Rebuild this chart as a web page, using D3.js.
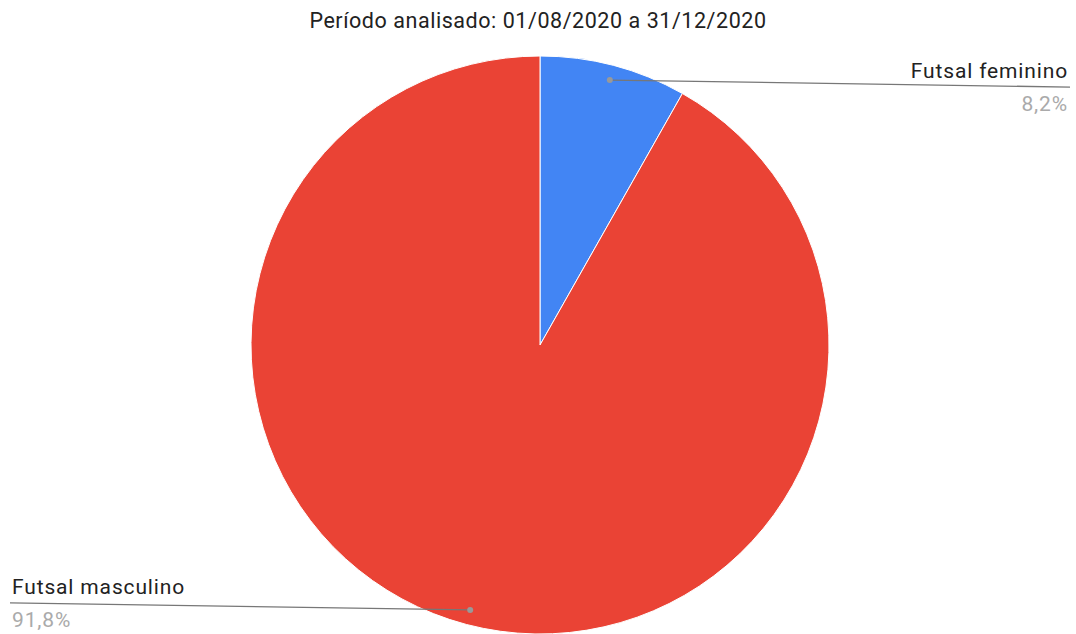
<!DOCTYPE html>
<html>
<head>
<meta charset="utf-8">
<script src="https://cdn.jsdelivr.net/npm/d3@7"></script>
<style>
  html, body { margin: 0; padding: 0; background: #fff; }
  svg { display: block; font-family: Roboto, "Noto Sans", sans-serif; }
</style>
</head>
<body>
<svg id="chart" width="1076" height="634"></svg>
<script>
// --- Data ---

const categories = ["Futsal feminino", "Futsal masculino"];
const values = [8.2, 91.8];
const valueLabels = ["8,2%", "91,8%"];
const colors = ["#4285F4", "#EA4335"];
const title = "Período analisado: 01/08/2020 a 31/12/2020";

// --- Layout ---

const width = 1076;
const height = 634;
const cx = 540;
const cy = 345;
const radius = 289;

const svg = d3.select("#chart");

svg.append("text")
  .attr("x", width / 2)
  .attr("y", 28)
  .attr("text-anchor", "middle")
  .attr("font-size", 21.5)
  .attr("letter-spacing", 0.55)
  .attr("fill", "#222")
  .text(title);

const data = categories.map((c, i) => ({ name: c, value: values[i], label: valueLabels[i], color: colors[i] }));

const pie = d3.pie().value((d) => d.value).sort(null);
const arcs = pie(data);
const arc = d3.arc().innerRadius(0).outerRadius(radius);
const dotArc = d3.arc().innerRadius(radius * 0.948).outerRadius(radius * 0.948);

const g = svg.append("g").attr("transform", `translate(${cx},${cy})`);

g.selectAll("path")
  .data(arcs)
  .join("path")
  .attr("d", arc)
  .attr("fill", (d) => d.data.color)
  .attr("stroke", "#fff")
  .attr("stroke-width", 1);

// --- Labels with leader lines ---

arcs.forEach((d) => {
  const [dx, dy] = dotArc.centroid(d);
  const px = cx + dx;
  const py = cy + dy;
  const right = px > cx;
  const endX = right ? 1070 : 10;
  const endY = right ? py + 7 : py - 7;

  svg.append("line")
    .attr("x1", px).attr("y1", py)
    .attr("x2", endX).attr("y2", endY)
    .attr("stroke", "#777")
    .attr("stroke-width", 1.3);

  svg.append("circle")
    .attr("cx", px).attr("cy", py)
    .attr("r", 3)
    .attr("fill", "#999");

  const tx = right ? 1068 : 12;
  const anchor = right ? "end" : "start";

  svg.append("text")
    .attr("x", tx).attr("y", endY - 9)
    .attr("text-anchor", anchor)
    .attr("font-size", 21)
    .attr("letter-spacing", 0.85)
    .attr("fill", "#222")
    .text(d.data.name);

  svg.append("text")
    .attr("x", tx).attr("y", endY + 24)
    .attr("text-anchor", anchor)
    .attr("font-size", 21)
    .attr("letter-spacing", 0.85)
    .attr("fill", "#aaa")
    .text(d.data.label);
});
</script>
</body>
</html>
